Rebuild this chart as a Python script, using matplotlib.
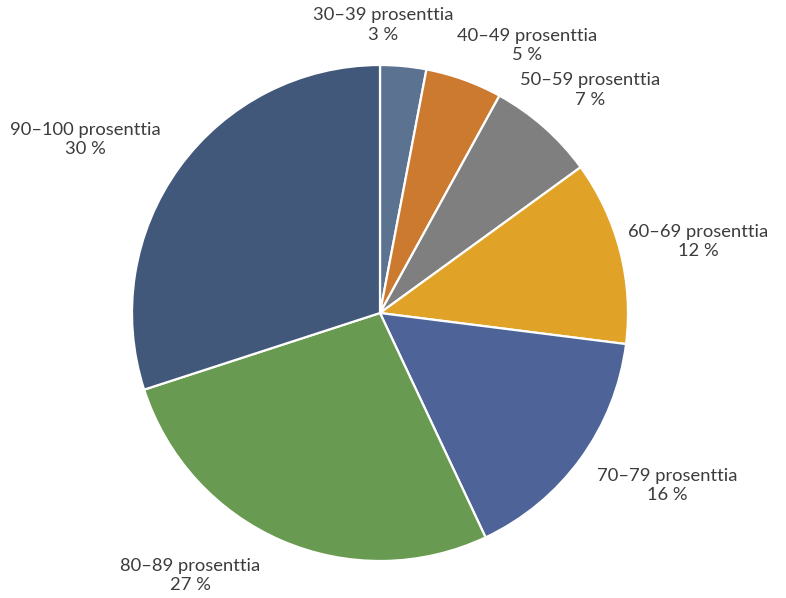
import matplotlib
matplotlib.use("Agg")
import matplotlib.pyplot as plt

# Share of respondents by score band
categories = ["30–39 prosenttia", "40–49 prosenttia", "50–59 prosenttia",
              "60–69 prosenttia", "70–79 prosenttia", "80–89 prosenttia",
              "90–100 prosenttia"]
shares = [3, 5, 7, 12, 16, 27, 30]

colors = ["#5b7391", "#cc7a30", "#7f7f7f", "#e0a328", "#4e6499", "#689b51", "#42587a"]

# label anchor points in pie-radius units (centre at 0,0)
label_pos = [(0.012, 1.161), (0.593, 1.079), (0.847, 0.899), (1.282, 0.288),
             (1.157, -0.696), (-0.766, -1.058), (-1.190, 0.700)]

W, H = 786, 598
fig = plt.figure(figsize=(W / 100, H / 100), dpi=100)
cx, cy, R = 380, 313, 248
ax = fig.add_axes([(cx - R) / W, (H - cy - R) / H, 2 * R / W, 2 * R / H])

ax.pie(shares, colors=colors, startangle=90, counterclock=False, radius=1,
       wedgeprops=dict(edgecolor="white", linewidth=1.6))
ax.set_xlim(-1, 1)
ax.set_ylim(-1, 1)
ax.set_aspect("auto")
ax.axis("off")

for name, val, (x, y) in zip(categories, shares, label_pos):
    ax.text(x, y, f"{name}\n{val} %", ha="center", va="center",
            fontsize=13.2, color="#3c3c3c", family=["Lato", "DejaVu Sans"],
            linespacing=1.25, clip_on=False)

fig.savefig("out.png", dpi=100, facecolor="white")
